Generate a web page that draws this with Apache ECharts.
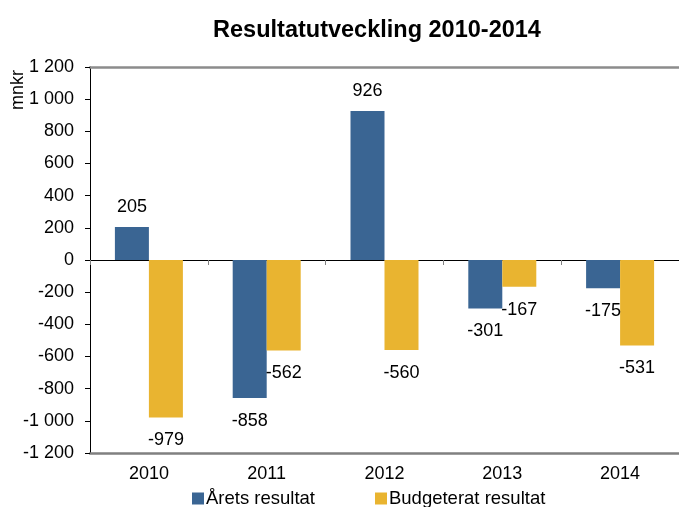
<!DOCTYPE html>
<html>
<head>
<meta charset="utf-8">
<script src="https://cdn.jsdelivr.net/npm/echarts@6/dist/echarts.min.js"></script>
<style>
  html, body { margin: 0; padding: 0; background: #fff; }
  #main { width: 679px; height: 507px; }
</style>
</head>
<body>
<div id="main"></div>
<script>
const years = ['2010', '2011', '2012', '2013', '2014'];
const aretsResultat = [205, -858, 926, -301, -175];
const budgeteratResultat = [-979, -562, -560, -167, -531];
const seriesNames = ['Årets resultat', 'Budgeterat resultat'];

const font = '"Liberation Sans", Arial, sans-serif';

// 1200 -> "1 200", -1000 -> "-1 000"
function fmt(v) {
    const s = String(Math.abs(v)).replace(/\B(?=(\d{3})+(?!\d))/g, ' ');
    return (v < 0 ? '-' : '') + s;
}

const barLabel = {
    show: true,
    color: '#000',
    fontFamily: font,
    fontSize: 18,
    formatter: p => fmt(p.value)
};

function toData(arr) {
    return arr.map(v => ({
        value: v,
        label: { position: v >= 0 ? 'top' : 'bottom', distance: v >= 0 ? 11 : 14 }
    }));
}

const chart = echarts.init(document.getElementById('main'));

const option = {
    animation: false,
    title: {
        text: 'Resultatutveckling 2010-2014',
        left: 372,
        textAlign: 'center',
        top: 14,
        textStyle: { fontFamily: font, fontSize: 23.5, fontWeight: 'bold', color: '#000' }
    },
    grid: { left: 90, right: 0, top: 67, bottom: 54 },
    legend: {
        bottom: -6,
        left: 187,
        itemGap: 60,
        itemWidth: 12,
        itemHeight: 12,
        icon: 'rect',
        textStyle: { fontFamily: font, fontSize: 18.5, color: '#000', padding: [0, 0, 0, -3] },
        data: seriesNames
    },
    graphic: [{
        type: 'text',
        left: 9,
        top: 70,
        rotation: Math.PI / 2,
        style: { text: 'mnkr', fontFamily: font, fontSize: 18, fill: '#000' }
    }],
    xAxis: [{
        // bottom frame line with the year labels
        type: 'category',
        data: years,
        position: 'bottom',
        axisLine: { onZero: false, lineStyle: { color: '#808080', width: 2.5 } },
        axisTick: { show: false },
        axisLabel: { fontFamily: font, fontSize: 18, color: '#000', margin: 12 }
    }, {
        // top frame line
        type: 'category',
        data: years,
        position: 'top',
        axisLine: { onZero: false, lineStyle: { color: '#8c8c8c', width: 2.5 } },
        axisTick: { show: false },
        axisLabel: { show: false }
    }, {
        // zero line with small ticks between the years
        type: 'category',
        data: years,
        position: 'top',
        axisLine: { onZero: true, lineStyle: { color: '#000', width: 1 } },
        axisTick: { show: true, inside: true, length: 5, lineStyle: { color: '#808080' } },
        axisLabel: { show: false }
    }],
    yAxis: {
        type: 'value',
        min: -1200,
        max: 1200,
        interval: 200,
        axisLine: { show: true, onZero: false, lineStyle: { color: '#000', width: 1 } },
        axisTick: { show: true, length: 5, lineStyle: { color: '#000' } },
        splitLine: { show: false },
        axisLabel: { fontFamily: font, fontSize: 18, color: '#000', margin: 16, formatter: fmt }
    },
    series: [{
        name: seriesNames[0],
        type: 'bar',
        data: toData(aretsResultat),
        barWidth: 34,
        barGap: '0%',
        itemStyle: { color: '#3a6593' },
        label: barLabel
    }, {
        name: seriesNames[1],
        type: 'bar',
        data: toData(budgeteratResultat),
        barWidth: 34,
        barGap: '0%',
        itemStyle: { color: '#e9b430' },
        label: barLabel
    }]
};

chart.setOption(option);
</script>
</body>
</html>
